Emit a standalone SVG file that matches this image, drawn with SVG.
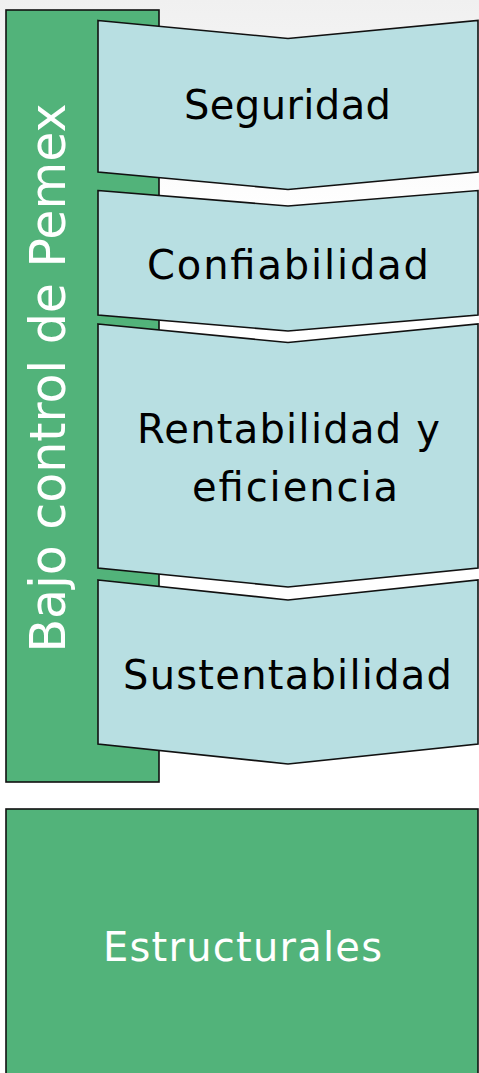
<svg xmlns="http://www.w3.org/2000/svg" width="479" height="1073" viewBox="0 0 479 1073">
  <defs>
    <linearGradient id="bg" x1="0" y1="0" x2="0" y2="220" gradientUnits="userSpaceOnUse">
      <stop offset="0" stop-color="#f0f0f0"/>
      <stop offset="1" stop-color="#ffffff"/>
    </linearGradient>
    <style>
      .green { fill: #52b37a; stroke: #111; stroke-width: 1.6; }
      .chev { fill: #b8dfe2; stroke: #111; stroke-width: 1.6; stroke-linejoin: miter; }
      .dark { font-family: "DejaVu Sans", sans-serif; font-size: 40px; fill: #000; }
      .light { font-family: "DejaVu Sans", sans-serif; fill: #fff; }
    </style>
  </defs>
  <rect x="0" y="0" width="479" height="1073" fill="url(#bg)"/>

  <g id="bajo-control">
    <rect class="green" x="6" y="10" width="153" height="772"/>
    <text class="light" font-size="49" transform="translate(65 378) rotate(-90)" text-anchor="middle">Bajo control de Pemex</text>
  </g>

  <g id="seguridad">
    <polygon class="chev" points="98,20.5 288,38.5 478,20.5 478,172 288,189.5 98,172"/>
    <text class="dark" x="184" y="119" textLength="207" lengthAdjust="spacing">Seguridad</text>
  </g>

  <g id="confiabilidad">
    <polygon class="chev" points="98,190.5 288,206 478,190.5 478,315 288,331 98,315"/>
    <text class="dark" x="147" y="279" textLength="282" lengthAdjust="spacing">Confiabilidad</text>
  </g>

  <g id="rentabilidad">
    <polygon class="chev" points="98,324 288,342.5 478,324 478,568 288,587 98,568"/>
    <text class="dark" x="137" y="443" textLength="303" lengthAdjust="spacing">Rentabilidad y</text>
    <text class="dark" x="192" y="501" textLength="206" lengthAdjust="spacing">eficiencia</text>
  </g>

  <g id="sustentabilidad">
    <polygon class="chev" points="98,580 288,600 478,580 478,744 288,764 98,744"/>
    <text class="dark" x="123" y="689" textLength="329" lengthAdjust="spacing">Sustentabilidad</text>
  </g>

  <g id="estructurales">
    <rect class="green" x="6" y="809" width="472" height="270"/>
    <text class="light" font-size="40" x="103" y="961" textLength="279" lengthAdjust="spacing">Estructurales</text>
  </g>

  <g id="connectors"/>
</svg>
